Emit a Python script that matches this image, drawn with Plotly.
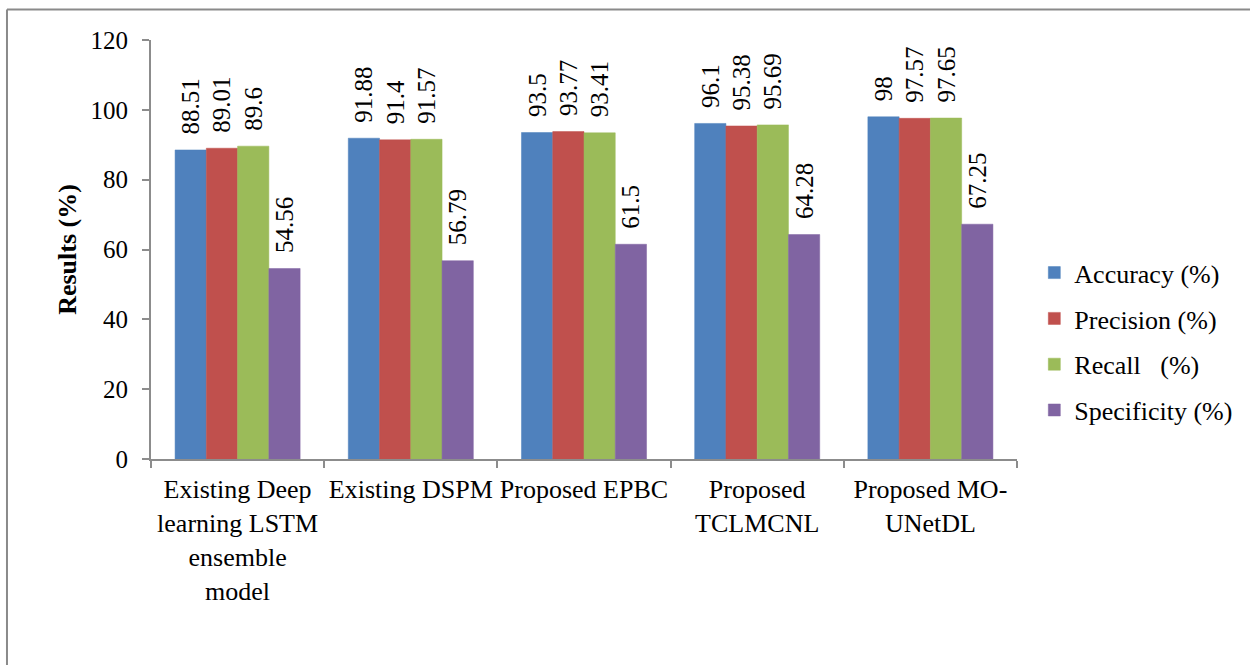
import plotly.graph_objects as go

# Methods compared (x categories) and their scores per metric
methods = [
    "Existing Deep<br>learning LSTM<br>ensemble<br>model",
    "Existing DSPM",
    "Proposed EPBC",
    "Proposed<br>TCLMCNL",
    "Proposed MO-<br>UNetDL",
]
accuracy = [88.51, 91.88, 93.5, 96.1, 98]
precision = [89.01, 91.4, 93.77, 95.38, 97.57]
recall = [89.6, 91.57, 93.41, 95.69, 97.65]
specificity = [54.56, 56.79, 61.5, 64.28, 67.25]

series_names = ["Accuracy (%)", "Precision (%)", "Recall\u00a0\u00a0\u00a0(%)", "Specificity (%)"]
series_values = [accuracy, precision, recall, specificity]
series_colors = ["#4F81BD", "#C0504D", "#9BBB59", "#8064A2"]

y_ticks = [0, 20, 40, 60, 80, 100, 120]

FONT = "Liberation Serif"
AXIS_GRAY = "#8C8C8C"

fig = go.Figure()
for i, (name, vals, col) in enumerate(zip(series_names, series_values, series_colors)):
    fig.add_trace(go.Bar(
        x=methods,
        y=vals,
        name=name,
        legendgroup=f"g{i}",
        marker=dict(color=col, line=dict(color=col, width=0.5)),
        text=[f"{v:g}" for v in vals],
        texttemplate="\u00a0\u00a0%{text}",
        textposition="outside",
        textangle=-90,
        constraintext="none",
        cliponaxis=False,
        textfont=dict(family=FONT, size=25, color="black"),
    ))

fig.update_layout(
    width=1250,
    height=665,
    paper_bgcolor="white",
    plot_bgcolor="white",
    barmode="group",
    bargap=0.278,
    bargroupgap=0,
    margin=dict(l=151, r=233, t=40, b=206, autoexpand=False),
    font=dict(family=FONT, size=25, color="black"),
    showlegend=True,
    legend=dict(
        x=1.02, xanchor="left",
        y=0.28, yanchor="middle",
        traceorder="grouped",
        tracegroupgap=9,
        font=dict(family=FONT, size=26, color="black"),
        bgcolor="rgba(0,0,0,0)",
    ),
    xaxis=dict(
        type="category",
        tickson="boundaries",
        ticks="outside",
        ticklen=7,
        tickwidth=2,
        tickcolor=AXIS_GRAY,
        tickangle=0,
        ticklabelstandoff=6,
        showline=True,
        linecolor=AXIS_GRAY,
        linewidth=2,
        showgrid=False,
        tickfont=dict(family=FONT, size=26, color="black"),
        fixedrange=True,
    ),
    yaxis=dict(
        range=[0, 120],
        tickvals=y_ticks,
        ticks="outside",
        ticklen=7,
        tickwidth=2,
        tickcolor=AXIS_GRAY,
        ticklabelstandoff=9,
        showline=True,
        linecolor=AXIS_GRAY,
        linewidth=2,
        showgrid=False,
        zeroline=False,
        tickfont=dict(family=FONT, size=25, color="black"),
        title=dict(text="<b>Results (%)</b>", font=dict(family=FONT, size=26, color="black"), standoff=6),
    ),
    shapes=[
        # chart-area frame (runs off the right and bottom edges)
        dict(type="line", xref="paper", yref="paper", x0=-0.1663, x1=1.5, y0=1.0728, y1=1.0728,
             line=dict(color="#8A8A8A", width=2)),
        dict(type="line", xref="paper", yref="paper", x0=-0.1663, x1=-0.1663, y0=1.0728, y1=-0.6,
             line=dict(color="#8A8A8A", width=2)),
    ],
)

fig.write_html("out.html")
